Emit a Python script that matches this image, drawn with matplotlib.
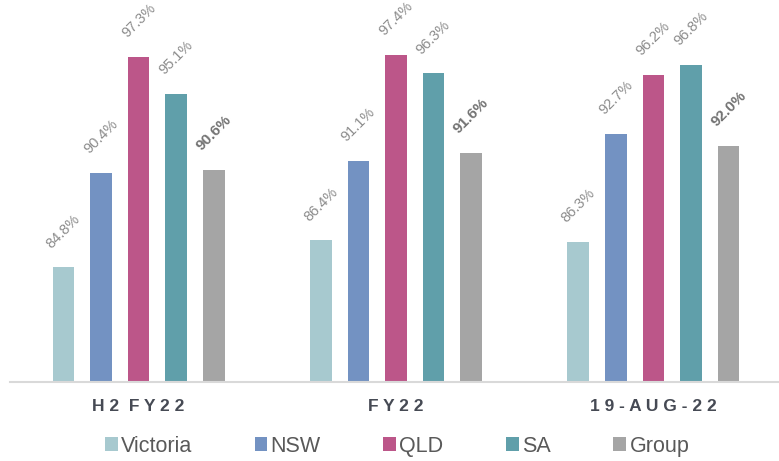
import numpy as np
import matplotlib
matplotlib.use("Agg")
import matplotlib.pyplot as plt

plt.rcParams['font.family'] = ['Liberation Sans', 'DejaVu Sans']

periods = ["H2 FY22", "FY22", "19-AUG-22"]
regions = ["Victoria", "NSW", "QLD", "SA", "Group"]
colors = ["#a7c9cf", "#7392c2", "#bc5689", "#609faa", "#a5a5a5"]

victoria = [84.8, 86.4, 86.3]
nsw = [90.4, 91.1, 92.7]
qld = [97.3, 97.4, 96.2]
sa = [95.1, 96.3, 96.8]
group = [90.6, 91.6, 92.0]
series = [victoria, nsw, qld, sa, group]

W, H = 779, 461
fig = plt.figure(figsize=(W / 100, H / 100), dpi=100)
ax = fig.add_axes([10 / W, (H - 382) / H, 772 / W, 371 / H])

x = np.arange(len(periods))
step = 0.146
width = 0.084

for i, (name, vals, col) in enumerate(zip(regions, series, colors)):
    xs = x + (i - 2) * step
    ax.bar(xs, vals, width=width, color=col, label=name, zorder=2)
    is_group = name == "Group"
    for xi, v in zip(xs, vals):
        ax.annotate(f"{v:.1f}%", (xi, v), xytext=(0, 12), textcoords="offset points",
                    ha="center", va="bottom", rotation=45,
                    fontsize=11 if is_group else 10.5,
                    fontweight="bold" if is_group else "normal",
                    color="#737373" if is_group else "#8c8c8c")

ax.set_ylim(78, 100)
ax.set_xlim(-0.5, 2.5)
ax.set_yticks([])
ax.set_xticks(x)
ax.set_xticklabels([" ".join(p).replace("   ", "  ") for p in periods],
                   fontsize=12.5, fontweight="bold", color="#464a54")
ax.tick_params(axis="x", length=0, pad=12)
for s in ["top", "right", "left"]:
    ax.spines[s].set_visible(False)
ax.spines["bottom"].set_color("#d9d9d9")
ax.spines["bottom"].set_linewidth(1.5)

fig.legend(loc="center", bbox_to_anchor=(397 / W, 1 - 446 / H), ncol=5, frameon=False,
           fontsize=15.5, handlelength=0.6, handleheight=0.6, handletextpad=0.15,
           columnspacing=2.9, labelcolor="#595959")

fig.savefig("out.png", dpi=100)
